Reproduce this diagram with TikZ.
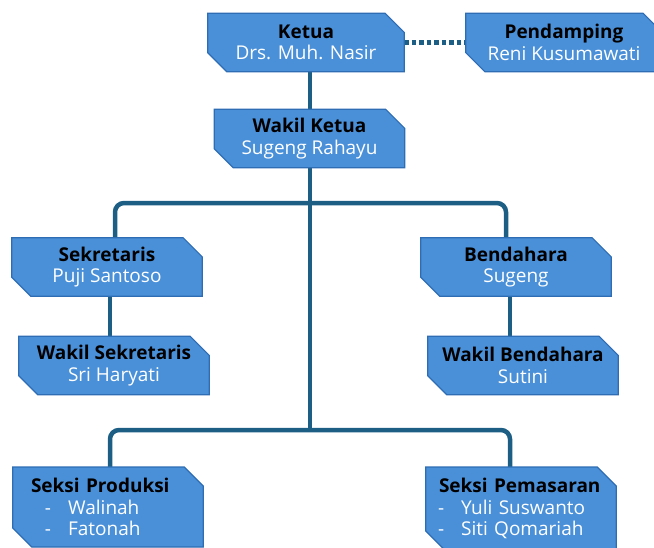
\documentclass[tikz,border=0pt]{standalone}
\usepackage{fontspec}
\setmainfont{Open Sans}
\usetikzlibrary{backgrounds}
\definecolor{boxfill}{HTML}{4A90D9}
\definecolor{boxline}{HTML}{2E6DB4}
\definecolor{linkline}{HTML}{1D5F84}
\pgfdeclarelayer{lines}
\pgfdeclarelayer{boxes}
\pgfsetlayers{lines,boxes,main}
\tikzset{
  unit/.style={rectangle, minimum width=190pt, minimum height=58pt, inner sep=0pt,
    align=center, font=\fontsize{19}{21.5}\selectfont},
  seksi/.style={unit, anchor=north, text width=190pt, align=left, inner ysep=11pt},
  snipfill/.style={fill=boxfill, draw=boxline, line width=1.2pt},
  snipshadow/.style={fill=black, opacity=.22},
  link/.style={draw=linkline, line width=4.5pt, rounded corners=9pt},
  dotlink/.style={draw=linkline, line width=4.5pt, dash pattern=on 4.5pt off 3pt}
}
\newcommand{\who}[2]{\textbf{#1}\\\textcolor{white}{#2}}
% box with the top right and bottom left corners cut off
\newcommand{\snip}[2][snipfill]{%
  \path[#1] (#2.north west) -- ([xshift=-19pt]#2.north east) -- ([yshift=-19pt]#2.north east)
    -- (#2.south east) -- ([xshift=19pt]#2.south west) -- ([yshift=19pt]#2.south west) -- cycle;}

\begin{document}
\begin{tikzpicture}[x=1pt,y=-1pt]
\useasboundingbox (0,0) rectangle (654,547);
\clip (0,0) rectangle (654,547);

\node[unit,minimum width=196pt] (ketua) at (306,42.5) {\who{Ketua}{Drs. Muh. Nasir}};
\node[unit,minimum width=196pt] (pend) at (564,42.5) {\who{Pendamping}{Reni Kusumawati}};
\node[unit] (wketua) at (309.5,138.5) {\who{Wakil Ketua}{Sugeng Rahayu}};
\node[unit] (sek) at (107,267) {\who{Sekretaris}{Puji Santoso}};
\node[unit] (wsek) at (114,365.5) {\who{Wakil Sekretaris}{Sri Haryati}};
\node[unit] (bend) at (516,267) {\who{Bendahara}{Sugeng}};
\node[unit] (wbend) at (523,365.5) {\who{Wakil Bendahara}{Sutini}};

% seksi
\node[seksi] (prod) at (108,467)
  {\hspace*{18pt}\textbf{Seksi Produksi}\\
   \hspace*{32pt}\textcolor{white}{-\hspace{17pt}Walinah}\\
   \hspace*{32pt}\textcolor{white}{-\hspace{17pt}Fatonah}};
\node[seksi] (pem) at (521,467)
  {\hspace*{13pt}\textbf{Seksi Pemasaran}\\
   \hspace*{12pt}\textcolor{white}{-\hspace{17pt}Yuli Suswanto}\\
   \hspace*{12pt}\textcolor{white}{-\hspace{17pt}Siti Qomariah}};

\begin{pgfonlayer}{boxes}
\foreach \b in {ketua,pend,wketua,sek,wsek,bend,wbend,prod,pem}{
  \begin{scope}[xshift=1.5pt,yshift=-2pt]\snip[snipshadow]{\b}\end{scope}
  \snip{\b}
}
\end{pgfonlayer}

\coordinate (fork1) at (310,203);
\coordinate (fork2) at (310,430);
\begin{pgfonlayer}{lines}
\draw[dotlink] (ketua.east) -- (pend.west);
\draw[link] (ketua.south -| fork2) -- (fork2);
\draw[link] ([xshift=8pt]sek.north) |- (fork1) -| ([xshift=-10pt]bend.north);
\draw[link] ([xshift=3pt]sek.south) -- ([xshift=-4pt]wsek.north);
\draw[link] ([xshift=-6pt]bend.south) -- ([xshift=-13pt]wbend.north);
\draw[link] ([xshift=2pt]prod.north) |- (fork2) -| ([xshift=-11pt]pem.north);
\end{pgfonlayer}
\end{tikzpicture}
\end{document}
